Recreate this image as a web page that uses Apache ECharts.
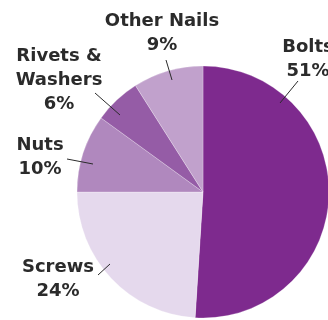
<!DOCTYPE html>
<html>
<head>
<meta charset="utf-8">
<script src="https://cdn.jsdelivr.net/npm/echarts@6/dist/echarts.min.js"></script>
<style>
  html, body { margin: 0; padding: 0; background: #fff; }
  #chart { width: 328px; height: 320px; }
</style>
</head>
<body>
<div id="chart"></div>
<script>
var categories = ['Bolts', 'Screws', 'Nuts', 'Rivets &\nWashers', 'Other Nails']
var shares = [51, 24, 10, 6, 9]
var colors = ['#7e2a8e', '#e5d9ed', '#b088be', '#955ca6', '#c1a1cc']

// where each label sits, and its little pointer line
var labelPos = [[308, 59], [58, 279.5], [40, 157.5], [59, 80.5], [162, 33.5]]
var linePts = [
    [[280, 103], [298, 81]],
    [[110, 264], [98, 275]],
    [[93, 164], [67, 159]],
    [[120, 115], [95, 93]],
    [[172, 80], [166, 60]]
]

var pieData = categories.map(function (name, i) {
    return { name: name, value: shares[i], itemStyle: { color: colors[i] } }
})

var myChart = echarts.init(document.getElementById('chart'))
var option = {
    animation: false,
    series: [{
        // the slices
        type: 'pie',
        center: [203, 192],
        radius: 126,
        startAngle: 90,
        clockwise: true,
        z: 2,
        data: pieData,
        itemStyle: {
            borderColor: 'rgba(255,255,255,0.5)',
            borderWidth: 0.5
        },
        label: { show: false },
        labelLine: { show: false }
    }, {
        // same pie, invisible, only to carry labels + pointer lines on top
        type: 'pie',
        center: [203, 192],
        radius: 126,
        startAngle: 90,
        clockwise: true,
        z: 5,
        silent: true,
        avoidLabelOverlap: false,
        data: categories.map(function (name, i) {
            return { name: name, value: shares[i] }
        }),
        itemStyle: { color: 'rgba(0,0,0,0)' },
        label: {
            show: true,
            position: 'outside',
            formatter: '{b}\n{c}%',
            color: '#2b2b2b',
            fontFamily: 'DejaVu Sans',
            fontWeight: 'bold',
            fontSize: 18,
            lineHeight: 24,
            align: 'center'
        },
        labelLine: {
            show: true,
            showAbove: true,
            lineStyle: { color: '#2b2b2b', width: 1 }
        },
        labelLayout: function (params) {
            var i = params.dataIndex
            return {
                x: labelPos[i][0],
                y: labelPos[i][1],
                align: 'center',
                verticalAlign: 'middle',
                labelLinePoints: linePts[i]
            }
        }
    }]
}
myChart.setOption(option)
</script>
</body>
</html>
